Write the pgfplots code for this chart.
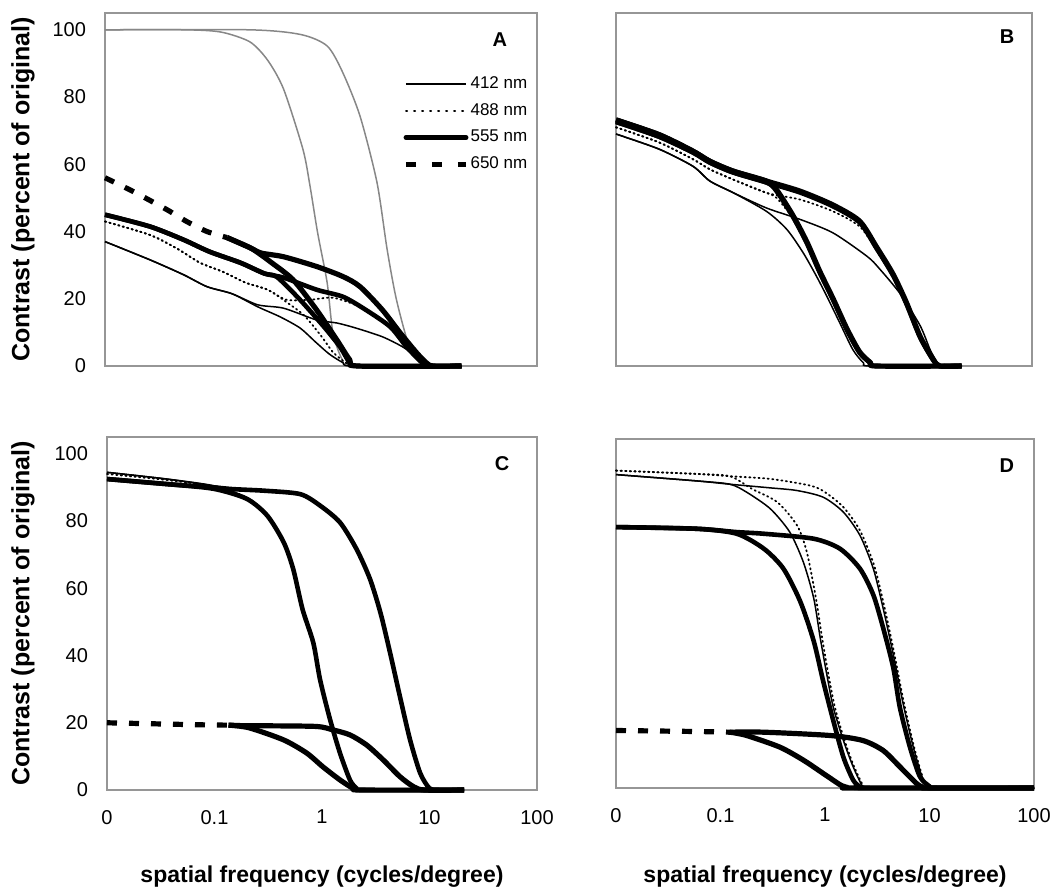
\documentclass[border=0pt]{standalone}
\usepackage{pgfplots}
\pgfplotsset{compat=1.18}
\usepackage{fontspec}
\setmainfont{Liberation Sans}
\definecolor{framegray}{RGB}{150,150,150}
\definecolor{curvegray}{RGB}{135,135,135}
\pgfplotsset{
  every axis/.append style={
    scale only axis, xmode=log, xmin=0.01, xmax=100, ymin=0, ymax=105,
    axis line style={framegray, line width=0.6pt},
    major tick length=0pt, minor tick length=0pt,
    xtick={0.01,0.1,1,10,100}, ytick={0,20,40,60,80,100},
    tick label style={font=\fontsize{10}{12}\selectfont, text=black},
    xticklabel style={yshift=-6.5pt}, yticklabel style={xshift=-6pt},
    clip=false,
  },
  zza/.style={black, line width=0.75pt, line join=round, smooth, tension=0.45},
  zzb/.style={black, line width=0.9pt, dash pattern=on 0.6pt off 1.7pt, line cap=round, line join=round, smooth, tension=0.45},
  zzc/.style={black, line width=2.3pt, line join=round, smooth, tension=0.45},
  zzdd/.style={black, line width=2.6pt, dash pattern=on 5pt off 6pt, smooth, tension=0.45},
  zzd/.style={black, line width=2.6pt, line join=round, smooth, tension=0.45},
  zzg/.style={curvegray, line width=0.75pt, line join=round, smooth, tension=0.45},
}
\newcommand{\lf}{\fontsize{8.5}{10}\selectfont}
\begin{document}
\begin{tikzpicture}
\path[use as bounding box] (0,0) rectangle (531.5pt,-445pt);
% ---------------- Panel A ----------------
\begin{axis}[at={(52.5pt,-183pt)}, anchor=south west, width=216pt, height=176.5pt,
  xticklabel=\empty, yticklabels={0,20,40,60,80,100},
  ylabel={Contrast (percent of original)},
  ylabel style={at={(axis description cs:0,0.5)}, anchor=center, yshift=41pt, font=\bfseries\fontsize{12.5}{14}\selectfont},
  legend style={draw=none, fill=none, at={(axis description cs:0.69,0.827)}, anchor=north west,
    font=\lf, row sep=4pt, inner sep=0pt, nodes={inner sep=1pt}},
  legend image post style={xscale=1.76},
  legend cell align=left]
\addlegendimage{black, line width=0.75pt}\addlegendentry{\lf 412 nm}
\addlegendimage{black, line width=0.9pt, dash pattern=on 0.6pt off 3.4pt, line cap=round}\addlegendentry{\lf 488 nm}
\addlegendimage{black, line width=2.4pt, line cap=round}\addlegendentry{\lf 555 nm}
\addlegendimage{black, line width=2.5pt, dash pattern=on 5pt off 8pt}\addlegendentry{\lf 650 nm}
% gray reference curves
\addplot[zzg, forget plot] coordinates {(0.01,100)(0.057,100)(0.12,99.3)(0.22,96.4)(0.32,91)(0.45,82.4)(0.68,64.5)(0.79,53.7)(0.93,39.7)(1.14,24.8)(1.29,9.9)(1.58,1.8)(2.0,0)(20,0)};
\addplot[zzg, forget plot] coordinates {(0.01,100)(0.22,100)(0.65,98.6)(1.14,95.2)(1.58,87.5)(2.3,74.3)(3.3,54.6)(4.1,34.6)(5.0,19.7)(6.6,5.7)(8.7,0.9)(10,0)(20,0)};
% 412
\addplot[zza, forget plot] coordinates {(0.01,37)(0.026,31.6)(0.053,27.2)(0.088,23.6)(0.15,21.5)(0.26,17.6)(0.42,14.6)(0.64,11.3)(0.9,7)(1.2,3.5)(1.6,1)(2.0,0)(20,0)};
\addplot[zza, forget plot] coordinates {(0.01,37)(0.026,31.6)(0.053,27.2)(0.088,23.6)(0.15,21.5)(0.26,18.2)(0.45,17.2)(0.91,13.7)(1.4,12.8)(2.1,11.3)(3.7,8.7)(5.7,5.7)(7.7,2.7)(10,0.5)(12,0)(20,0)};
% 488
\addplot[zzb, forget plot] coordinates {(0.01,43)(0.026,39)(0.046,35)(0.076,30.7)(0.124,28)(0.2,24.8)(0.32,22.7)(0.48,19.7)(0.79,19.7)(1.3,20.3)(2.3,17.6)(3.7,13.7)(5.7,7.8)(8.7,1.8)(11,0)(20,0)};
\addplot[zzb, forget plot] coordinates {(0.01,43)(0.026,39)(0.046,35)(0.076,30.7)(0.124,28)(0.2,24.8)(0.32,22.7)(0.48,19)(0.7,15)(1.0,9)(1.3,4)(1.7,1)(2.1,0)(20,0)};
% 555
\addplot[zzc, forget plot] coordinates {(0.01,45)(0.026,41.5)(0.053,37.6)(0.093,34)(0.18,30.7)(0.3,27.5)(0.45,26.3)(0.91,22.7)(1.6,20.6)(2.6,16.7)(4.4,11.6)(6.2,5.7)(8.7,0.9)(10.5,0)(20,0)};
\addplot[zzc, forget plot] coordinates {(0.01,45)(0.026,41.5)(0.053,37.6)(0.093,34)(0.18,30.7)(0.3,27.5)(0.39,26.5)(0.64,19.7)(1.07,11.6)(1.5,5.7)(1.85,0.9)(2.2,0)(20,0)};
% 650
\addplot[zzdd, forget plot] coordinates {(0.01,56)(0.018,52)(0.037,46.6)(0.057,43)(0.088,40)(0.135,38.2)};
\addplot[zzd, forget plot] coordinates {(0.135,38.2)(0.22,35.2)(0.28,33.6)(0.45,32.5)(0.91,29.6)(1.6,26.6)(2.3,23.6)(3.7,16.7)(5.4,9.9)(7.7,3.9)(9.5,0.9)(11,0)(20,0)};
\addplot[zzd, forget plot] coordinates {(0.135,38.2)(0.22,35.2)(0.28,33)(0.34,31)(0.55,25.7)(0.91,16.7)(1.4,7.8)(1.85,1.8)(2.2,0)(20,0)};
\node[font=\bfseries\fontsize{10}{12}\selectfont] at (axis description cs:0.914,0.924) {A};
\end{axis}
% ---------------- Panel B ----------------
\begin{axis}[at={(308pt,-183pt)}, anchor=south west, width=208pt, height=176.5pt,
  xticklabel=\empty, yticklabel=\empty]
\addplot[zza] coordinates {(0.01,69)(0.026,64.5)(0.055,59.4)(0.08,55)(0.133,51.6)(0.28,46)(0.44,40.6)(0.63,33.7)(0.85,26.6)(1.07,20.6)(1.42,12.8)(1.9,4.8)(2.4,0.9)(2.8,0)(21,0)};
\addplot[zza] coordinates {(0.01,69)(0.026,64.5)(0.055,59.4)(0.08,55)(0.133,51.6)(0.28,47)(0.59,43.6)(1.22,39.6)(2.6,32.6)(3.4,29)(5.4,21.5)(8.4,12)(10.5,4.8)(12.4,0.9)(14,0)(21,0)};
\addplot[zzd] coordinates {(0.01,73.2)(0.026,68.8)(0.055,63.9)(0.08,60.9)(0.133,58)(0.28,55)(0.59,52)(1.22,47.9)(2.2,43.1)(3.2,35.4)(4.6,27.4)(6.2,18.9)(8.4,8.8)(11.2,2)(13,0)(21,0)};
\addplot[zzd] coordinates {(0.01,73.2)(0.026,68.8)(0.055,63.9)(0.08,60.9)(0.133,58)(0.28,55)(0.35,52.4)(0.5,44.9)(0.68,37.1)(0.91,28.2)(1.22,20.1)(1.66,11.1)(2.2,4.2)(2.8,1)(3.2,0)(21,0)};
\addplot[zzc] coordinates {(0.01,72.6)(0.026,68.2)(0.055,63.5)(0.08,60.5)(0.133,57.6)(0.28,54.6)(0.59,51.6)(1.22,47.5)(2.2,42.7)(3.2,35)(4.6,27)(6.2,18.5)(8.4,8.5)(11.2,1.8)(13,0)(21,0)};
\addplot[zzc] coordinates {(0.01,72.6)(0.026,68.2)(0.055,63.5)(0.08,60.5)(0.133,57.6)(0.28,54.6)(0.35,52)(0.5,44.5)(0.68,36.7)(0.91,27.8)(1.22,19.7)(1.66,10.7)(2.2,3.9)(2.8,0.9)(3.2,0)(21,0)};
\addplot[zzb] coordinates {(0.01,71)(0.026,66.5)(0.055,61.5)(0.08,58.5)(0.133,55.5)(0.28,51.5)(0.59,49.5)(1.22,46)(2.2,41.5)(3.2,34.5)(4.6,26.5)(6.2,18.2)(8.4,8.4)(11.2,1.8)(13,0)(21,0)};
\addplot[zzb] coordinates {(0.01,71)(0.026,66.5)(0.055,61.5)(0.08,58.5)(0.133,55.5)(0.28,51.5)(0.35,50)(0.5,44)(0.68,36.5)(0.91,27.6)(1.22,19.5)(1.66,10.6)(2.2,3.8)(2.8,0.9)(3.2,0)(21,0)};
\node[font=\bfseries\fontsize{10}{12}\selectfont] at (axis description cs:0.94,0.932) {B};
\end{axis}
% ---------------- Panel C ----------------
\begin{axis}[at={(53.5pt,-395pt)}, anchor=south west, width=215pt, height=176.5pt,
  xticklabels={0,0.1,1,10,100}, yticklabels={0,20,40,60,80,100},
  ylabel={Contrast (percent of original)},
  ylabel style={at={(axis description cs:0,0.5)}, anchor=center, yshift=42pt, font=\bfseries\fontsize{12.5}{14}\selectfont},
  xlabel={spatial frequency (cycles/degree)},
  xlabel style={at={(axis description cs:0.5,0)}, anchor=center, yshift=-43.5pt, font=\bfseries\fontsize{11.5}{13}\selectfont}]
\addplot[zza] coordinates {(0.01,94.5)(0.036,92.5)(0.098,90.5)(0.2,87)(0.31,81.8)(0.44,73.9)(0.54,65.9)(0.66,53.9)(0.83,44)(0.96,33)(1.19,21)(1.47,11)(1.82,3)(2.1,0.5)(2.4,0)(21,0)};
\addplot[zza] coordinates {(0.01,94.5)(0.036,92.5)(0.098,90.5)(0.148,89.8)(0.3,89.2)(0.63,88.2)(0.96,84.8)(1.47,79.8)(2.1,71.8)(2.8,62.9)(3.5,52.9)(4.3,41)(5.3,28)(6.6,15)(8.2,5)(10,0.5)(12,0)(21,0)};
\addplot[zzb] coordinates {(0.01,94)(0.036,92.2)(0.098,90.3)(0.2,87)(0.31,81.8)(0.44,73.9)(0.54,65.9)(0.66,53.9)(0.83,44)(0.96,33)(1.19,21)(1.47,11)(1.82,3)(2.1,0.5)(2.4,0)(21,0)};
\addplot[zzc] coordinates {(0.01,92.5)(0.036,91)(0.098,89.6)(0.2,86.6)(0.31,81.6)(0.44,73.7)(0.54,65.7)(0.66,53.7)(0.83,43.8)(0.96,32.8)(1.19,20.9)(1.47,11)(1.82,3)(2.1,0.5)(2.4,0)(21,0)};
\addplot[zzc] coordinates {(0.01,92.5)(0.036,91)(0.098,90)(0.148,89.5)(0.3,89)(0.63,88)(0.96,84.6)(1.47,79.6)(2.1,71.6)(2.8,62.7)(3.5,52.7)(4.3,40.8)(5.3,27.9)(6.6,14.9)(8.2,5)(10,0.5)(12,0)(21,0)};
\addplot[zzdd] coordinates {(0.01,20)(0.074,19.4)(0.135,19.3)};
\addplot[zzd] coordinates {(0.135,19.3)(0.2,19.1)(0.31,19.1)(0.89,18.9)(1.26,17.9)(1.82,16.4)(2.6,13.4)(3.7,9)(5.3,4)(7.1,1)(9,0)(21,0)};
\addplot[zzd] coordinates {(0.135,19.3)(0.21,18.5)(0.44,14.9)(0.72,11)(1.02,6.9)(1.47,3)(1.95,0.5)(2.3,0)(21,0)};
\node[font=\bfseries\fontsize{10}{12}\selectfont] at (axis description cs:0.919,0.926) {C};
\end{axis}
% ---------------- Panel D ----------------
\begin{axis}[at={(308pt,-394pt)}, anchor=south west, width=209pt, height=174.5pt,
  xticklabels={0,0.1,1,10,100}, yticklabel=\empty,
  xlabel={spatial frequency (cycles/degree)},
  xlabel style={at={(axis description cs:0.5,0)}, anchor=center, yshift=-44.5pt, font=\bfseries\fontsize{11.5}{13}\selectfont}]
\addplot[zza] coordinates {(0.01,94.3)(0.059,92.4)(0.123,91.4)(0.178,89)(0.30,84)(0.46,77)(0.62,68)(0.78,57.1)(0.9,45.2)(1.04,34.2)(1.2,24.3)(1.5,14.3)(1.86,6.4)(2.3,0.4)(2.6,0)(100,0)};
\addplot[zza] coordinates {(0.01,94.3)(0.059,92.4)(0.123,91.4)(0.3,90.3)(0.54,89.5)(0.96,87.5)(1.5,83)(2.16,76)(2.9,66)(3.6,54.1)(4.5,40.2)(5.6,25.3)(7.0,12.3)(8.7,2.4)(10.1,0.4)(11,0)(100,0)};
\addplot[zzb] coordinates {(0.01,95.5)(0.059,94.5)(0.123,93.8)(0.2,90)(0.35,86)(0.54,79)(0.67,71)(0.82,57)(0.94,45)(1.08,34)(1.25,24)(1.55,14)(1.9,6.4)(2.35,0.4)(2.6,0)(100,0)};
\addplot[zzb] coordinates {(0.01,95.5)(0.059,94.5)(0.123,93.8)(0.3,93)(0.72,91)(1.0,89)(1.5,84.5)(2.16,77.5)(2.95,67)(3.7,54.5)(4.6,40.5)(5.7,25.5)(7.1,12.5)(8.8,2.4)(10.2,0.4)(11,0)(100,0)};
\addplot[zzc] coordinates {(0.01,78.5)(0.059,78)(0.143,76.5)(0.26,72)(0.40,66)(0.58,56.1)(0.78,44.2)(0.96,32.2)(1.2,20.3)(1.5,9.3)(1.86,2.4)(2.16,0.4)(2.4,0)(100,0)};
\addplot[zzc] coordinates {(0.01,78.5)(0.059,78)(0.143,77)(0.26,76.5)(0.78,75)(1.39,72)(2.16,66)(2.9,58.1)(3.6,48.2)(4.5,36.2)(5.2,24.3)(6.5,12.3)(8.1,3.4)(10.1,0.4)(11,0)(100,0)};
\addplot[zzdd] coordinates {(0.01,17.3)(0.06,17)(0.123,16.8)};
\addplot[zzd] coordinates {(0.123,16.8)(0.26,16.8)(1.12,15.8)(2.3,14.3)(3.6,11.3)(5.2,6.4)(7.5,1.4)(8.7,0.2)(10,0)(100,0)};
\addplot[zzd] coordinates {(0.123,16.8)(0.178,15.8)(0.37,12.3)(0.62,8.4)(0.96,4.4)(1.13,2.9)(1.3,1.6)(1.45,0.7)(1.65,0.15)(1.9,0)(100,0)};
\node[font=\bfseries\fontsize{10}{12}\selectfont] at (axis description cs:0.935,0.925) {D};
\end{axis}
\end{tikzpicture}
\end{document}
